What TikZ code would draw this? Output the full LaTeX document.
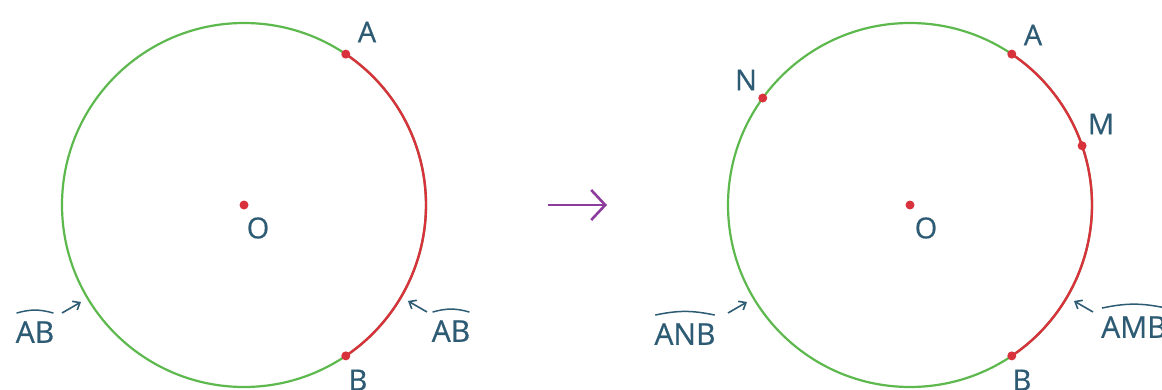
\documentclass[tikz,border=0pt]{standalone}
\usepackage{fontspec}
\setmainfont{Open Sans}
\newfontface\lblface{Open Sans}[FakeBold=0.6]
\usetikzlibrary{arrows.meta,calc}
\definecolor{txt}{HTML}{2E5B74}
\definecolor{grn}{HTML}{5DB84E}
\definecolor{rd}{HTML}{D8323C}
\definecolor{pur}{HTML}{8C3C9C}
\tikzset{
  circ/.style={draw=grn, line width=2.2pt},
  redarc/.style={draw=rd, line width=2.4pt},
  dot/.style={circle, fill=rd, inner sep=0pt, minimum size=9pt},
  lbl/.style={text=txt, font=\lblface\fontsize{29}{33}\selectfont, inner sep=0pt},
  arclbl/.style={text=txt, font=\lblface\fontsize{30}{34}\selectfont, inner sep=0pt},
  hat/.style={draw=txt, line width=1.5pt},
  ptr/.style={draw=txt, line width=1.6pt, -{Straight Barb[length=6pt,width=10pt]}},
  bigarrow/.style={draw=pur, line width=2.6pt, -{Straight Barb[length=14pt,width=30pt,line width=2.6pt]}}
}
\begin{document}
\begin{tikzpicture}[x=1pt,y=1pt]
\useasboundingbox (0,0) rectangle (1162,389);
% left circle
\coordinate (c1) at (244,184);
\draw[circ] (c1) circle[radius=182];
\draw[redarc] (c1) ++(-56:182) arc[start angle=-56,end angle=56,radius=182];
\node[dot] (O1) at (c1) {};
\node[dot] (A1) at ($(c1)+(56:182)$) {};
\node[dot] (B1) at ($(c1)+(-56:182)$) {};
\node[lbl] (lO1) at (258,161) {O};
\node[lbl] (lA1) at (367,357) {A};
\node[lbl] (lB1) at (358,9) {B};
\node[arclbl] (g1) at (35,57) {AB};
\draw[hat] ([xshift=1pt,yshift=8pt]g1.north west) to[bend left=16] ([xshift=-1pt,yshift=8pt]g1.north east);
\node[arclbl] (r1) at (451,58) {AB};
\draw[hat] ([xshift=1pt,yshift=8pt]r1.north west) to[bend left=16] ([xshift=-1pt,yshift=8pt]r1.north east);
\coordinate (g1t) at (62,76); \coordinate (g1h) at (81,87);
\coordinate (r1t) at (427,77); \coordinate (r1h) at (408,88);
\draw[ptr] (g1t) -- (g1h);
\draw[ptr] (r1t) -- (r1h);
% transition arrow
\coordinate (m1) at (548,184); \coordinate (m2) at (607,184);
\draw[bigarrow] (m1) -- (m2);
% right circle
\coordinate (c2) at (910,184);
\draw[circ] (c2) circle[radius=182];
\draw[redarc] (c2) ++(-56:182) arc[start angle=-56,end angle=56,radius=182];
\node[dot] (O2) at (c2) {};
\node[dot] (A2) at ($(c2)+(56:182)$) {};
\node[dot] (B2) at ($(c2)+(-56:182)$) {};
\node[dot] (M2) at ($(c2)+(19:182)$) {};
\node[dot] (N2) at ($(c2)+(144:182)$) {};
\node[lbl] (lO2) at (926,161) {O};
\node[lbl] (lA2) at (1033,354) {A};
\node[lbl] (lB2) at (1022,9) {B};
\node[lbl] (lM2) at (1101,265) {M};
\node[lbl] (lN2) at (746,309) {N};
\node[arclbl] (g2) at (685,55) {ANB};
\draw[hat] ([xshift=1pt,yshift=8pt]g2.north west) to[bend left=12] ([xshift=-1pt,yshift=8pt]g2.north east);
\node[arclbl, anchor=west] (r2) at (1101,62) {AMB};
\draw[hat] ([xshift=1pt,yshift=8pt]r2.north west) to[bend left=12] ([xshift=-1pt,yshift=8pt]r2.north east);
\coordinate (g2t) at (728,76); \coordinate (g2h) at (747,87);
\coordinate (r2t) at (1093,77); \coordinate (r2h) at (1074,88);
\draw[ptr] (g2t) -- (g2h);
\draw[ptr] (r2t) -- (r2h);
\end{tikzpicture}
\end{document}
